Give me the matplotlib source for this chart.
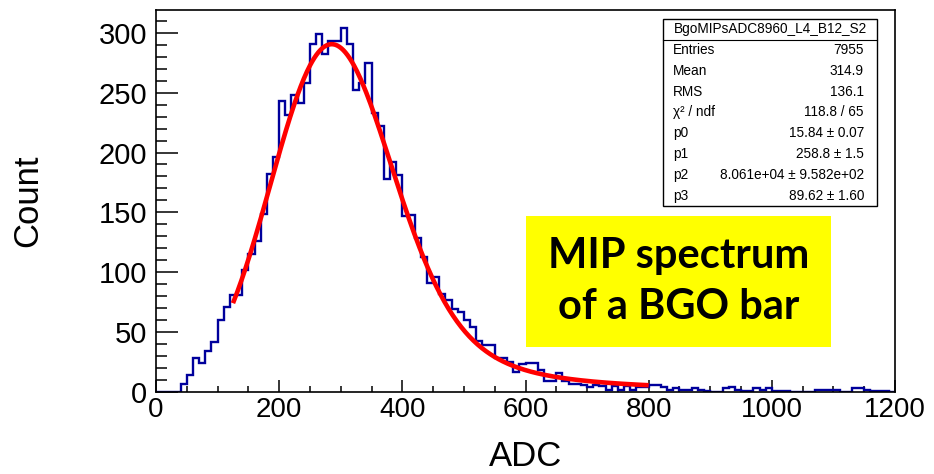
import numpy as np
import matplotlib
matplotlib.use("Agg")
import matplotlib.pyplot as plt
from matplotlib.patches import Rectangle
from matplotlib.lines import Line2D
from matplotlib.ticker import MultipleLocator

plt.rcParams['font.family'] = ['Liberation Sans', 'DejaVu Sans']

# ADC spectrum, 10-count wide bins from 0 to 1200
bin_edges = np.arange(0, 1201, 10)
counts = [
    0, 0, 0, 0, 7, 14, 28, 24, 34, 42,
    60, 71, 81, 81, 102, 115, 126, 149, 182, 196,
    243, 231, 248, 241, 258, 291, 299, 282, 293, 293,
    304, 291, 252, 258, 275, 233, 222, 178, 192, 181,
    147, 148, 129, 113, 91, 96, 82, 77, 69, 67,
    60, 54, 43, 39, 39, 28, 28, 25, 17, 23,
    24, 24, 18, 9, 9, 16, 9, 7, 7, 6,
    4, 6, 5, 2, 5, 2, 5, 2, 4, 4,
    6, 6, 4, 2, 3, 2, 2, 3, 2, 1,
    0, 0, 3, 4, 2, 1, 1, 3, 2, 3,
    1, 1, 1, 0, 0, 0, 0, 2, 2, 2,
    2, 0, 0, 3, 3, 2, 1, 1, 1, 0,
]

# Landau (x) Gaussian fit: p0 Landau width, p1 MPV, p2 area, p3 Gaussian sigma
fit_params = [15.84, 258.8, 8.061e4, 89.62]
fit_range = (125, 800)

stats_title = "BgoMIPsADC8960_L4_B12_S2"
stats_labels = ["Entries", "Mean", "RMS", "χ² / ndf", "p0", "p1", "p2", "p3"]
stats_values = ["7955", "314.9", "136.1", "118.8 / 65", "15.84 ± 0.07",
                "258.8 ± 1.5", "8.061e+04 ± 9.582e+02", "89.62 ± 1.60"]

x_ticks = [0, 200, 400, 600, 800, 1000, 1200]
y_ticks = [0, 50, 100, 150, 200, 250, 300]
x_label = "ADC"
y_label = "Count"
note_lines = ["MIP spectrum", "of a BGO bar"]


def landau_pdf_table(lam):
    """Standard Landau density via p(x) = 1/pi * int_0^inf exp(-pi t/2) cos(x t + t ln t) dt."""
    t = np.linspace(0.0, 40.0, 8001)
    tlogt = t * np.log(np.maximum(t, 1e-300))
    damp = np.exp(-np.pi * t / 2)
    out = np.empty_like(lam)
    for i in range(0, lam.size, 200):
        chunk = lam[i:i + 200, None]
        integrand = damp * np.cos(chunk * t + tlogt)
        out[i:i + 200] = np.trapezoid(integrand, t, axis=1) / np.pi
    return np.clip(out, 0, None)


def langaus(x, par):
    mpshift = -0.22278298
    mpc = par[1] - mpshift * par[0]
    lam_grid = np.linspace(-6, 75, 1621)
    pdf_grid = landau_pdf_table(lam_grid)
    n_steps, sc = 200, 5.0
    res = np.empty_like(x)
    for k, xv in enumerate(x):
        lo, hi = xv - sc * par[3], xv + sc * par[3]
        step = (hi - lo) / n_steps
        xx = lo + (np.arange(n_steps) + 0.5) * step
        fland = np.interp((xx - mpc) / par[0], lam_grid, pdf_grid, left=0, right=0) / par[0]
        gaus = np.exp(-0.5 * ((xv - xx) / par[3]) ** 2)
        res[k] = par[2] * step * np.sum(fland * gaus) / (np.sqrt(2 * np.pi) * par[3])
    return res


W, H = 934, 474
fig = plt.figure(figsize=(W / 100, H / 100), dpi=100)


def fx(px):
    return px / W


def fy(py):
    return 1 - py / H


ax = fig.add_axes([fx(156), fy(392), fx(895) - fx(156), fy(10) - fy(392)])

ax.stairs(counts, bin_edges, color='#00009c', lw=1.7, baseline=0, zorder=2)

xs = np.linspace(fit_range[0], fit_range[1], 400)
ax.plot(xs, langaus(xs, fit_params), color='#ff0000', lw=3.3, zorder=3,
        solid_capstyle='butt')

ax.set_xlim(0, 1200)
ax.set_ylim(0, 319)
ax.set_xticks(x_ticks)
ax.set_yticks(y_ticks)
ax.xaxis.set_minor_locator(MultipleLocator(50))
ax.yaxis.set_minor_locator(MultipleLocator(10))
ax.tick_params(axis='both', which='both', direction='in', top=False, right=False,
               width=1.1, colors='black')
ax.tick_params(axis='y', which='major', length=15.8, labelsize=21, pad=6.5)
ax.tick_params(axis='y', which='minor', length=7.9)
ax.tick_params(axis='x', which='major', length=8.3, labelsize=20, pad=3.5)
ax.tick_params(axis='x', which='minor', length=4.1)
for sp in ax.spines.values():
    sp.set_linewidth(1.2)

fig.text(fx(525.5), fy(456), x_label, ha='center', va='center', fontsize=25)
fig.text(fx(27.5), fy(201), y_label, ha='center', va='center', fontsize=25,
         rotation=90)

# Statistics box
bx0, by0, bx1, by1 = 663, 19, 877, 206
fig.patches.append(Rectangle((fx(bx0), fy(by1)), fx(bx1) - fx(bx0), fy(by0) - fy(by1),
                             transform=fig.transFigure, facecolor='white',
                             edgecolor='black', lw=1.0, zorder=5))
row_h = (by1 - by0) / 9
fig.lines.append(Line2D([fx(bx0), fx(bx1)], [fy(by0 + row_h)] * 2,
                        transform=fig.transFigure, color='black', lw=0.8, zorder=6))
fig.text(fx((bx0 + bx1) / 2), fy(by0 + row_h / 2), stats_title, ha='center',
         va='center', fontsize=9.8, zorder=7)
for i, (lab, val) in enumerate(zip(stats_labels, stats_values), start=1):
    yc = by0 + row_h * (i + 0.5)
    fig.text(fx(673), fy(yc), lab, ha='left', va='center', fontsize=9.8, zorder=7)
    fig.text(fx(864), fy(yc), val, ha='right', va='center', fontsize=9.8, zorder=7)

# Highlight note
fig.patches.append(Rectangle((fx(526), fy(347)), fx(831) - fx(526), fy(216) - fy(347),
                             transform=fig.transFigure, facecolor='#ffff00',
                             edgecolor='none', zorder=5))
for line, base in zip(note_lines, [268, 319]):
    fig.text(fx(678.5), fy(base), line, ha='center', va='baseline', fontsize=30,
             fontweight='bold', family=['Lato', 'DejaVu Sans'], zorder=7)

fig.savefig("out.png", dpi=100)
